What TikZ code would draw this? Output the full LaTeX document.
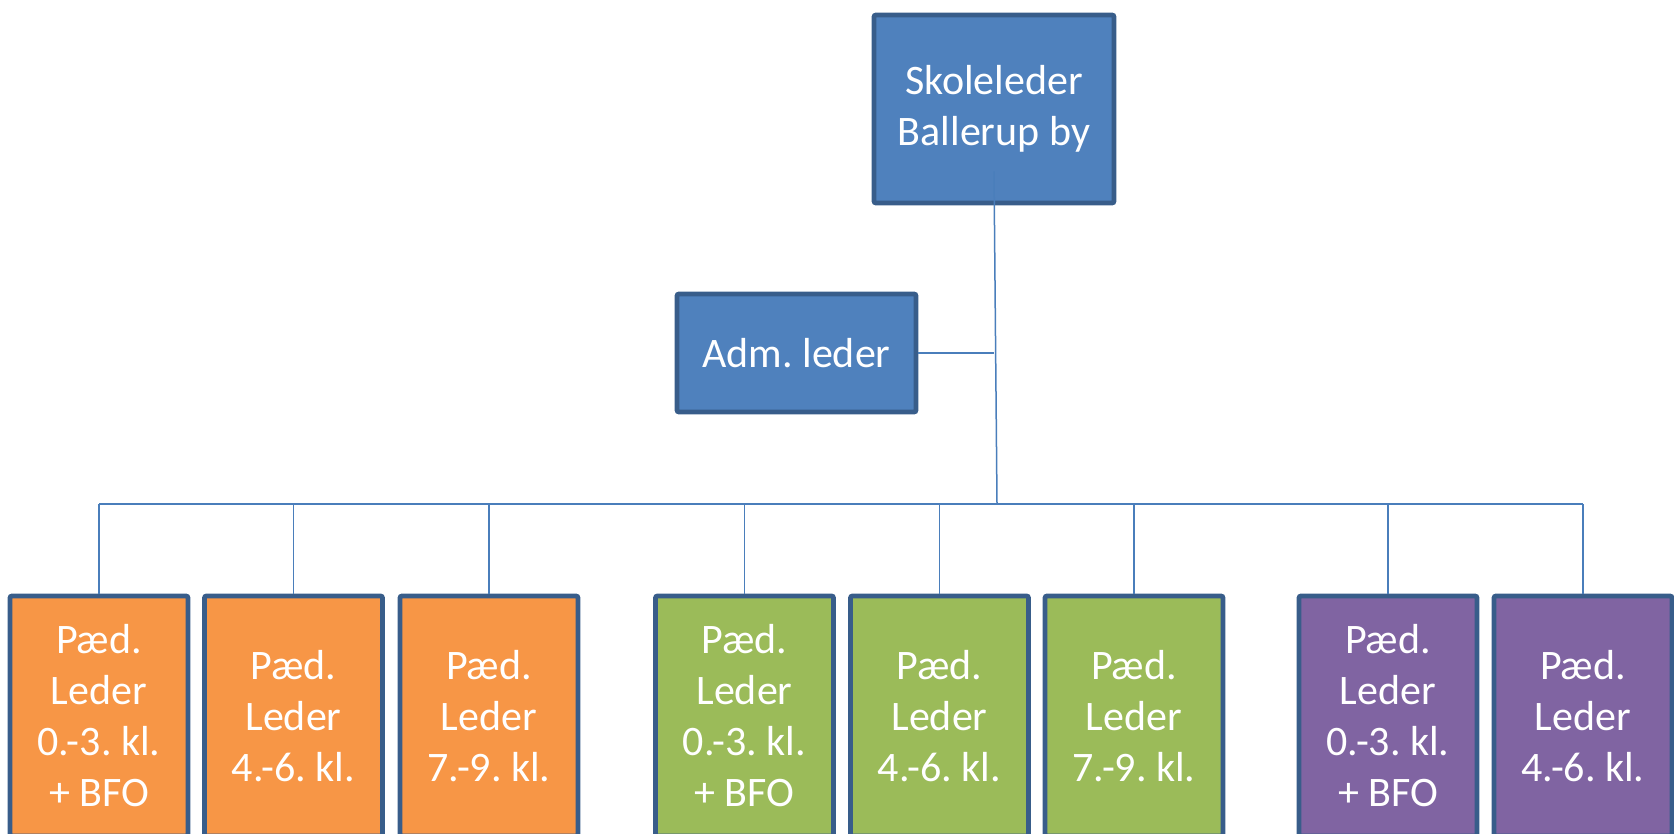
\documentclass[tikz,border=0pt]{standalone}
\usepackage{fontspec}
\setmainfont{Carlito}
\frenchspacing
\definecolor{rand}{HTML}{385D8A}
\definecolor{blaa}{HTML}{4F81BD}
\definecolor{orange}{HTML}{F79646}
\definecolor{groen}{HTML}{9BBB59}
\definecolor{lilla}{HTML}{8064A2}
\definecolor{streg}{HTML}{4A7EBB}
\begin{document}
\begin{tikzpicture}[x=0.5pt,y=-0.5pt,
	leder/.style={rectangle,draw=rand,line width=2.4pt,rounded corners=1pt,text=white,align=center,inner sep=0pt,font=\fontsize{21}{25.5}\selectfont},
	paed/.style={leder,minimum width=89pt,minimum height=120pt},
	streg/.style={draw=streg,line width=0.75pt}]
	\useasboundingbox (0,0) rectangle (1674,834);
	\clip (0,0) rectangle (1674,834);

	\node[leder,fill=blaa,minimum width=120pt,minimum height=94pt] (skole) at (994,109) {Skoleleder\\Ballerup by};
	\node[leder,fill=blaa,minimum width=119.5pt,minimum height=59pt] (adm) at (796.5,353) {Adm. leder};
	\coordinate (bus) at (997,504);

	\node[paed,fill=orange] (o1) at (99,716) {Pæd.\\Leder\\0.-3. kl.\\+ BFO};
	\node[paed,fill=orange] (o2) at (293.5,716) {Pæd.\\Leder\\4.-6. kl.};
	\node[paed,fill=orange] (o3) at (489,716) {Pæd.\\Leder\\7.-9. kl.};

	\node[paed,fill=groen] (g1) at (744.5,716) {Pæd.\\Leder\\0.-3. kl.\\+ BFO};
	\node[paed,fill=groen] (g2) at (939.5,716) {Pæd.\\Leder\\4.-6. kl.};
	\node[paed,fill=groen] (g3) at (1134,716) {Pæd.\\Leder\\7.-9. kl.};

	\node[paed,fill=lilla] (l1) at (1388,716) {Pæd.\\Leder\\0.-3. kl.\\+ BFO};
	\node[paed,fill=lilla] (l2) at (1583,716) {Pæd.\\Leder\\4.-6. kl.};

	\draw[streg] ([yshift=17pt]skole.south) -- (bus);
	\draw[streg] (adm.east) -- (adm.east -| skole.south);
	\draw[streg] (bus -| o1.north) -- (bus -| l2.north);

	\draw[streg] (bus -| o1.north) -- (o1.north);
	\draw[streg] (bus -| o2.north) -- (o2.north);
	\draw[streg] (bus -| o3.north) -- (o3.north);
	\draw[streg] (bus -| g1.north) -- (g1.north);
	\draw[streg] (bus -| g2.north) -- (g2.north);
	\draw[streg] (bus -| g3.north) -- (g3.north);
	\draw[streg] (bus -| l1.north) -- (l1.north);
	\draw[streg] (bus -| l2.north) -- (l2.north);
\end{tikzpicture}
\end{document}
